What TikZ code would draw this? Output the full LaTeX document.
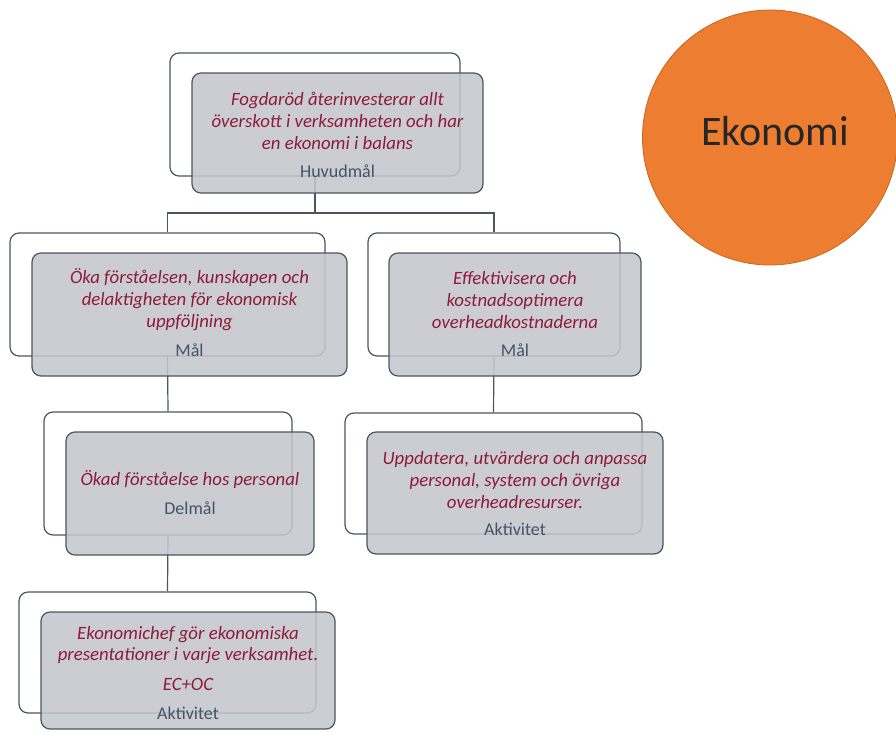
\documentclass[tikz,border=0pt]{standalone}
\usepackage{fontspec}
\setmainfont{Carlito}
\usetikzlibrary{calc}
\definecolor{goaltext}{HTML}{8E1B3C}
\definecolor{labeltext}{HTML}{44546A}
\definecolor{linecol}{HTML}{4C5560}
\definecolor{cardfill}{HTML}{C4C7CC}
\definecolor{ekofill}{HTML}{ED7D31}
\definecolor{ekoline}{HTML}{C9661F}
\tikzset{
  backcard/.style={draw=linecol, line width=1.2pt, rounded corners=9pt, fill=white,
    minimum width=#1, inner sep=0pt},
  frontcard/.style={draw=linecol, line width=1.2pt, rounded corners=9pt, fill=cardfill,
    fill opacity=0.88, minimum width=#1, inner sep=0pt},
  goal/.style={text=goaltext, font=\fontsize{18.8}{21.8}\selectfont\itshape, align=center,
    inner sep=0pt},
  tag/.style={text=labeltext, font=\fontsize{18}{20}\selectfont, inner sep=0pt},
  link/.style={draw=linecol, line width=1.2pt},
}
\begin{document}
\begin{tikzpicture}[x=1pt, y=-1pt]
\useasboundingbox (0,0) rectangle (896,731);

% back cards
\node[backcard=290pt, minimum height=123pt] (b0) at (315,114.5) {};
\node[backcard=315pt, minimum height=123pt] (b1) at (167.5,294.5) {};
\node[backcard=252pt, minimum height=123pt] (b2) at (494,294.5) {};
\node[backcard=248pt, minimum height=123pt] (b3) at (168,473.5) {};
\node[backcard=297pt, minimum height=121pt] (b4) at (493.5,473.5) {};
\node[backcard=297pt, minimum height=121pt] (b5) at (167.5,652.5) {};

% tree connectors
\coordinate (j0) at (315,213);
\draw[link] (b0.south) -- (j0);
\draw[link] (b1.north) |- (j0) -| (b2.north);
\draw[link] (b1.south) -- (b3.north);
\draw[link] (b2.south) -- (b4.north);
\draw[link] (b3.south) -- (b5.north);

% front cards
\node[frontcard=291pt, minimum height=120pt] (f0) at (337.5,133) {};
\node[frontcard=315pt, minimum height=123pt] (f1) at (189.5,314.5) {};
\node[frontcard=252pt, minimum height=123pt] (f2) at (515,314.5) {};
\node[frontcard=248pt, minimum height=123pt] (f3) at (190,493.5) {};
\node[frontcard=296pt, minimum height=122pt] (f4) at (515,493) {};
\node[frontcard=294pt, minimum height=117pt] (f5) at (188,670.5) {};

% texts
\node[goal] (t0) at (337.5,121) {Fogdaröd återinvesterar allt\\överskott i verksamheten och har\\en ekonomi i balans};
\node[tag] (l0) at (337.5,171) {Huvudmål};

\node[goal] (t1) at (189.5,299.5) {Öka förståelsen, kunskapen och\\delaktigheten för ekonomisk\\uppföljning};
\node[tag] (l1) at (189.5,350) {Mål};

\node[goal] (t2) at (515,300) {Effektivisera och\\kostnadsoptimera\\overheadkostnaderna};
\node[tag] (l2) at (515,350) {Mål};

\node[goal] (t3) at (190,479) {Ökad förståelse hos personal};
\node[tag] (l3) at (190,508) {Delmål};

\node[goal] (t4) at (515,480) {Uppdatera, utvärdera och anpassa\\personal, system och övriga\\overheadresurser.};
\node[tag] (l4) at (515,529) {Aktivitet};

\node[goal] (t5) at (188,645) {Ekonomichef gör ekonomiska\\presentationer i varje verksamhet.};
\node[goal] (t5b) at (188,684) {EC+OC};
\node[tag] (l5) at (188,713) {Aktivitet};

% topic badge
\node[circle, fill=ekofill, draw=ekoline, line width=0.8pt, minimum size=255pt, inner sep=0pt]
  (eko) at (770,137.5) {};
\node[text=black!85, font=\fontsize{42}{48}\selectfont, inner sep=0pt] (ekot) at (775,131) {Ekonomi};
\end{tikzpicture}
\end{document}
